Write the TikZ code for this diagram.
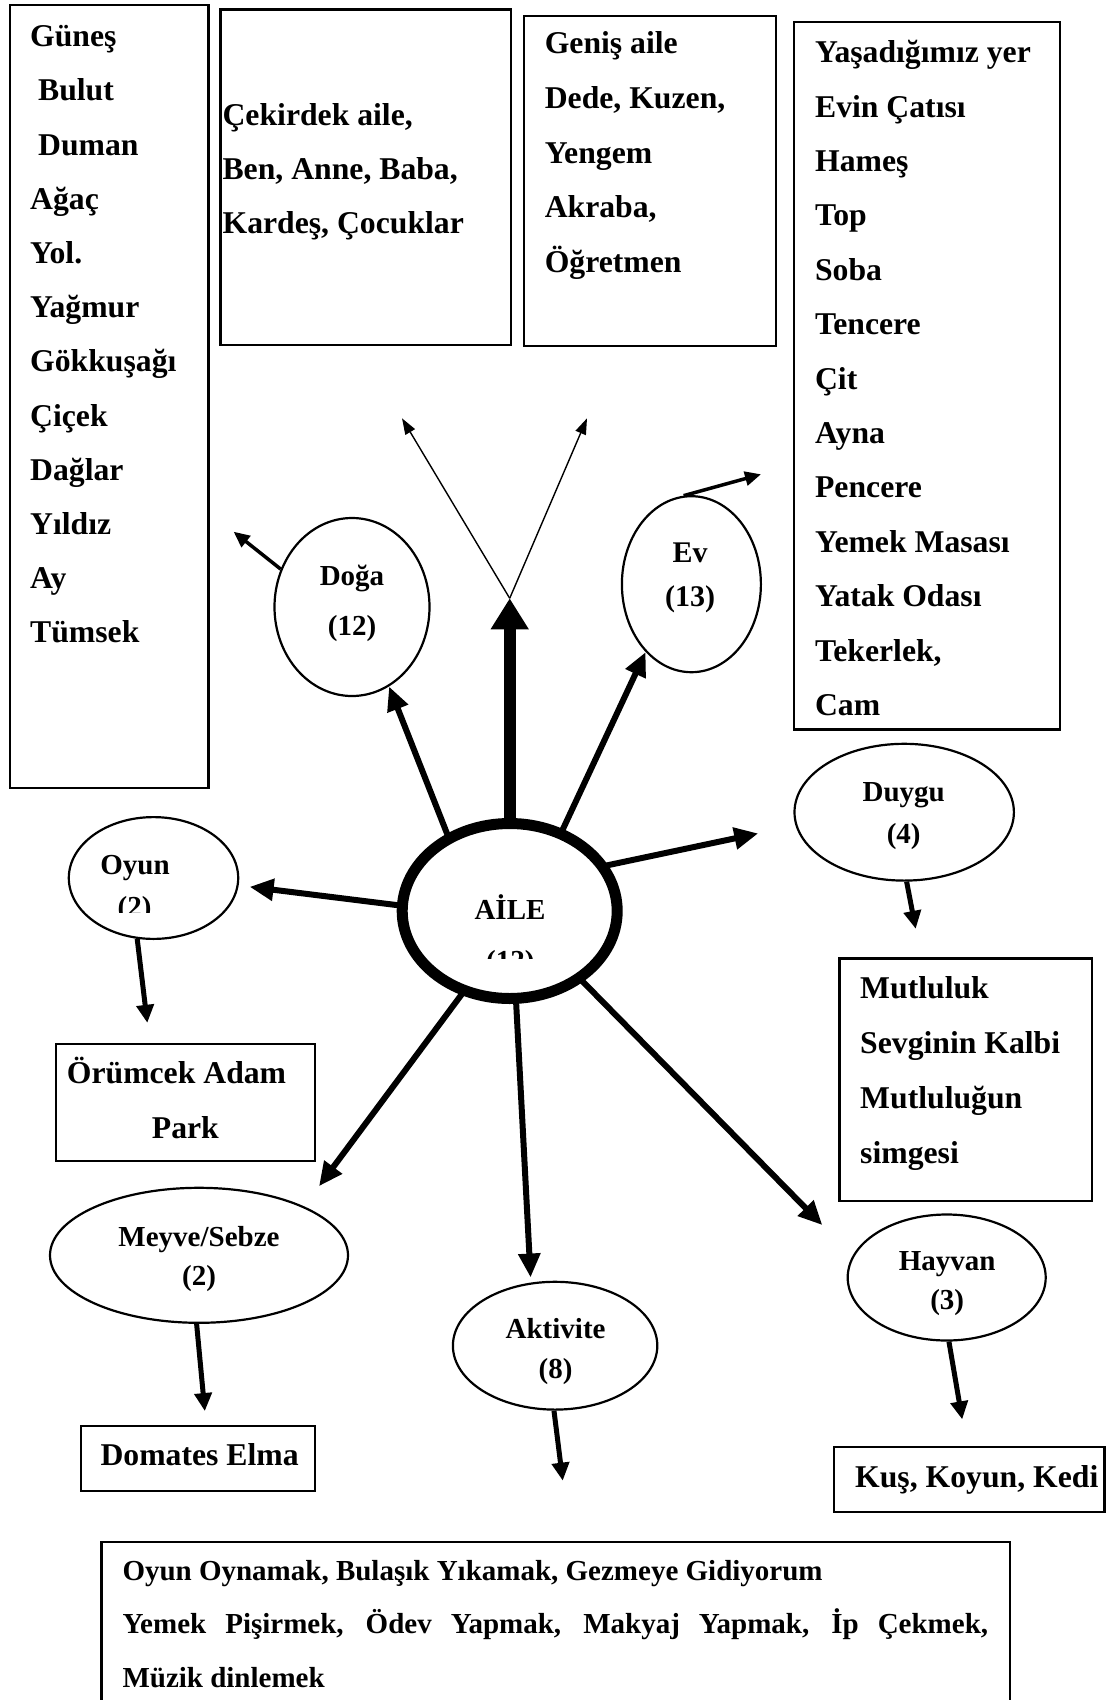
\documentclass[tikz,border=0pt]{standalone}
\usepackage{fontspec}
\setmainfont{Liberation Serif}
\usetikzlibrary{shapes.geometric,arrows.meta}

\begin{document}
\begin{tikzpicture}[x=1pt,y=-1pt,
	box/.style={draw,line width=2.2pt,anchor=north west,inner sep=0pt},
	item/.style={anchor=base west,inner sep=0pt,font=\bfseries\fontsize{31.7}{38}\selectfont},
	topic/.style={ellipse,draw,line width=2.2pt,fill=white,inner sep=0pt},
	word/.style={anchor=base,inner sep=0pt,font=\bfseries\fontsize{29}{40}\selectfont},
	link/.style={line width=6pt,shorten <=-3pt,-{Triangle[length=24pt,width=21pt]}},
	sublink/.style={line width=5pt,-{Triangle[length=18pt,width=17pt]}},
	stub/.style={line width=3.5pt,-{Triangle[length=16pt,width=14pt]}},
	fan/.style={line width=1.4pt,-{Triangle[length=16pt,width=11pt]}},
	trunk/.style={line width=12pt,-{Triangle[length=31pt,width=36pt]}}]
% page frame
\path[use as bounding box,clip] (0,0) rectangle (1108,1700);

% boxes
\node[box,minimum width=198.7pt,minimum height=782.7pt] (dogabox) at (8.6,4) {};
\node[box,minimum width=290.7pt,minimum height=335.7pt] (cekirdekbox) at (219.3,8.3) {};
\node[box,minimum width=252pt,minimum height=330pt] (genisbox) at (522.5,15) {};
\node[box,minimum width=265.8pt,minimum height=707.6pt] (evbox) at (792.7,20.7) {};
\node[box,minimum width=259pt,minimum height=117.3pt] (orumcekbox) at (55,1042.7) {};
\node[box,minimum width=252.7pt,minimum height=242.7pt] (mutlulukbox) at (838.3,957.3) {};
\node[box,minimum width=234.3pt,minimum height=65pt] (domatesbox) at (79.5,1425) {};
\node[box,minimum width=270.6pt,minimum height=65pt] (kusbox) at (832.7,1446) {};
\node[box,minimum width=908.8pt,minimum height=180pt] (aktivitebox) at (100.4,1541) {};

% box texts
\foreach \w [count=\i] in {Güneş,\ Bulut,\ Duman,Ağaç,Yol.,Yağmur,Gökkuşağı,Çiçek,Dağlar,Yıldız,Ay,Tümsek}{
	\node[item] (doga-\i) at (30,{46.7+54.2*(\i-1)}) {\w};
}
\foreach \w [count=\i] in {{Çekirdek aile,},{Ben, Anne, Baba,},{Kardeş, Çocuklar}}{
	\node[item] (cekirdek-\i) at (222.4,{125+54.2*(\i-1)}) {\w};
}
\foreach \w [count=\i] in {Geniş aile,{Dede, Kuzen,},Yengem,{Akraba,},Öğretmen}{
	\node[item] (genis-\i) at (544.6,{53.3+54.85*(\i-1)}) {\w};
}
\foreach \w [count=\i] in {Yaşadığımız yer,Evin Çatısı,Hameş,Top,Soba,Tencere,Çit,Ayna,Pencere,Yemek Masası,Yatak Odası,{Tekerlek,},Cam}{
	\node[item] (ev-\i) at (814.9,{62.7+54.4*(\i-1)}) {\w};
}
\foreach \w [count=\i] in {Mutluluk,Sevginin Kalbi,Mutluluğun,simgesi}{
	\node[item] (mutluluk-\i) at (860,{998.3+55*(\i-1)}) {\w};
}
\node[item] (orumcek-1) at (66.7,1083.3) {Örümcek Adam};
\node[item] (orumcek-2) at (151.7,1138.3) {Park};
\node[item] (domates) at (100.4,1465) {Domates Elma};
\node[item] (kus) at (855,1487.3) {Kuş, Koyun, Kedi};
\node[item,font=\bfseries\fontsize{29}{38}\selectfont] (aktivite-1) at (122.3,1580) {Oyun Oynamak, Bulaşık Yıkamak, Gezmeye Gidiyorum};
\node[item,font=\bfseries\fontsize{29}{38}\selectfont] (aktivite-2) at (122.3,1633.3) {\makebox[865.7pt][s]{Yemek Pişirmek, Ödev Yapmak, Makyaj Yapmak, İp Çekmek,}};
\node[item,font=\bfseries\fontsize{29}{38}\selectfont] (aktivite-3) at (122.3,1687.3) {Müzik dinlemek};

% topics
\node[topic,minimum width=155pt,minimum height=178pt] (doga) at (352,607) {};
\node[topic,minimum width=139pt,minimum height=176pt] (ev) at (691.4,584.2) {};
\node[topic,minimum width=169.4pt,minimum height=121.8pt] (oyun) at (153.5,878) {};
\node[topic,minimum width=219.4pt,minimum height=136.8pt] (duygu) at (904.2,812.2) {};
\node[topic,minimum width=298pt,minimum height=135pt] (meyve) at (199,1255.3) {};
\node[topic,minimum width=204.4pt,minimum height=127.8pt] (aktivite) at (555.1,1345.7) {};
\node[topic,minimum width=198pt,minimum height=126pt] (hayvan) at (946.7,1277.5) {};
\node[topic,line width=11pt,minimum width=215pt,minimum height=175pt] (aile) at (509.7,911) {};

% topic labels
\node[word] (doga-a) at (352,585) {Doğa};
\node[word] (doga-b) at (352,635) {(12)};
\node[word,font=\bfseries\fontsize{30}{40}\selectfont] (ev-a) at (690,562.7) {Ev};
\node[word,font=\bfseries\fontsize{30}{40}\selectfont] (ev-b) at (690,606.7) {(13)};
\node[word] (duygu-a) at (903.7,801) {Duygu};
\node[word] (duygu-b) at (903.7,843) {(4)};
\node[word] (meyve-a) at (199,1246) {Meyve/Sebze};
\node[word] (meyve-b) at (199,1285) {(2)};
\node[word] (aktivite-a) at (555.6,1338.3) {Aktivite};
\node[word] (aktivite-b) at (555.6,1378.3) {(8)};
\node[word] (hayvan-a) at (947.2,1270.7) {Hayvan};
\node[word] (hayvan-b) at (947.2,1309.3) {(3)};

% cut-off labels
\begin{scope}
\clip (70,816) rectangle (235,912.7);
\node[word] (oyun-a) at (135,874) {Oyun};
\node[word] (oyun-b) at (134.5,916) {(2)};
\end{scope}
\begin{scope}
\clip (400,830) rectangle (620,958);
\node[word] (aile-a) at (510,919) {AİLE};
\node[word] (aile-b) at (510.3,970) {(12)};
\end{scope}

% free ends
\coordinate (top) at (509.7,598.3);
\coordinate (fanleft) at (402,418.3);
\coordinate (fanright) at (587,418.3);
\coordinate (dogaend) at (233.6,531.7);
\coordinate (evend) at (761,474.3);

% arrows
\draw[trunk] (aile.north) -- (top);
\draw[fan] (top) -- (fanleft);
\draw[fan] (top) -- (fanright);
\draw[link] (aile.129) -- (doga.-65);
\draw[link] (aile.57) -- (ev.-124);
\draw[link,shorten >=38pt] (aile.25) -- (duygu.187);
\draw[link,shorten >=11pt] (aile.177) -- (oyun.-5);
\draw[link,shorten >=25pt] (aile.240) -- (meyve.25);
\draw[link,shorten >=5pt] (aile.-86) -- (aktivite.111);
\draw[link,shorten >=43pt] (aile.-44.5) -- (hayvan.167.6);
\draw[stub] (doga.152.6) -- (dogaend);
\draw[stub] (ev.95.8) -- (evend);
\draw[sublink,shorten >=20pt] (oyun.255.6) -- (orumcekbox.121);
\draw[sublink,shorten >=29pt] (duygu.-88) -- (mutlulukbox.110.6);
\draw[sublink,shorten >=14pt] (meyve.268) -- (domatesbox.76.8);
\draw[sublink,shorten >=27pt] (hayvan.-88.6) -- (kusbox.94.2);
\draw[sublink,shorten >=60.8pt] (aktivite.-91.3) -- (aktivitebox.81.3);
\end{tikzpicture}
\end{document}
